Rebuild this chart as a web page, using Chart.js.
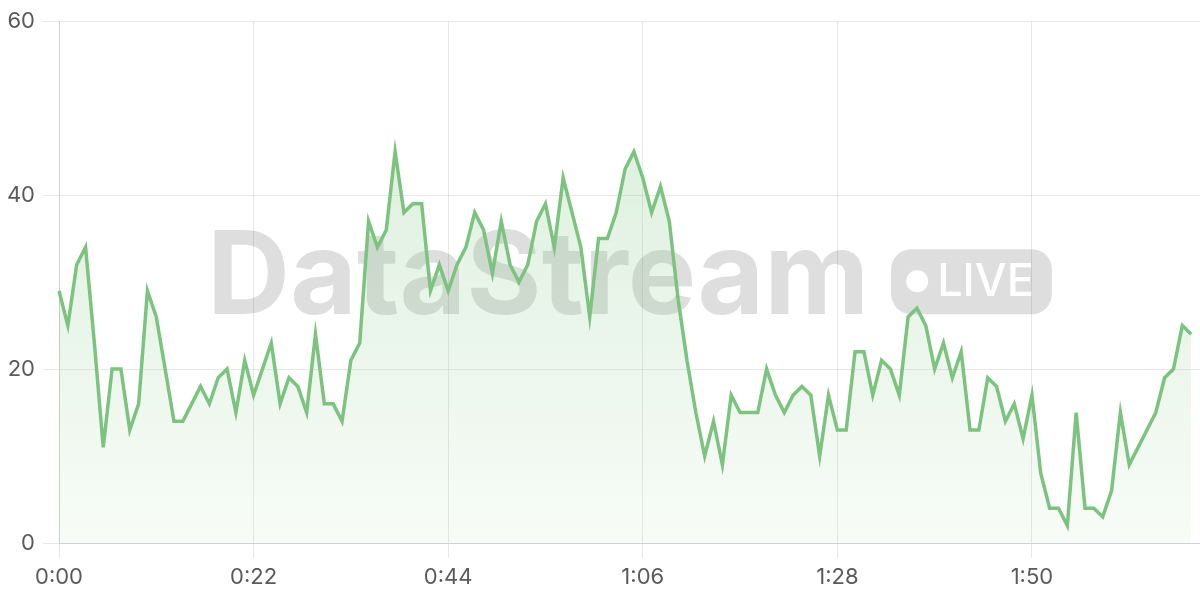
<!DOCTYPE html>
<html>
<head>
<meta charset="utf-8">
<script src="https://cdn.jsdelivr.net/npm/chart.js@4/dist/chart.umd.min.js"></script>
<style>
  html, body { margin: 0; padding: 0; background: #fff; }
  #wrap { width: 1200px; height: 600px; }
</style>
</head>
<body>
<div id="wrap"><canvas id="streamChart"></canvas></div>
<script>
// one reading per second
const values = [
  29, 25, 32, 34, 23, 11, 20, 20, 13, 16,
  29, 26, 20, 14, 14, 16, 18, 16, 19, 20,
  15, 21, 17, 20, 23, 16, 19, 18, 15, 24,
  16, 16, 14, 21, 23, 37, 34, 36, 45, 38,
  39, 39, 29, 32, 29, 32, 34, 38, 36, 31,
  37, 32, 30, 32, 37, 39, 34, 42, 38, 34,
  26, 35, 35, 38, 43, 45, 42, 38, 41, 37,
  28, 21, 15, 10, 14, 9, 17, 15, 15, 15,
  20, 17, 15, 17, 18, 17, 10, 17, 13, 13,
  22, 22, 17, 21, 20, 17, 26, 27, 25, 20,
  23, 19, 22, 13, 13, 19, 18, 14, 16, 12,
  17, 8, 4, 4, 2, 15, 4, 4, 3, 6,
  15, 9, 11, 13, 15, 19, 20, 25, 24
];
const slotCount = 130;   // window is one slot wider than the data
const xTickLabels = ['0:00', '0:22', '0:44', '1:06', '1:28', '1:50'];
const yTicks = [0, 20, 40, 60];

function fmtTime(s) {
  return Math.floor(s / 60) + ':' + String(s % 60).padStart(2, '0');
}
const timeLabels = Array.from({ length: slotCount }, (_, i) => fmtTime(i));

const GREEN = 'rgb(125, 195, 128)';

const watermark = {
  id: 'watermark',
  beforeDatasetsDraw(chart) {
    const { ctx, chartArea: a } = chart;
    const cx = (a.left + a.right) / 2;
    const baseline = a.top + 293;
    ctx.save();
    ctx.font = '700 115px Inter';
    const mainW = ctx.measureText('DataStream').width;
    ctx.font = '500 45px Inter';
    const liveW = ctx.measureText('LIVE').width;
    const pillW = 46 + liveW + 18, pillH = 65, gap = 22;
    const x0 = cx - (mainW + gap + pillW) / 2;
    ctx.fillStyle = 'rgba(0,0,0,0.13)';
    ctx.font = '700 115px Inter';
    ctx.textBaseline = 'alphabetic';
    ctx.textAlign = 'left';
    ctx.fillText('DataStream', x0, baseline);
    const px = x0 + mainW + gap;
    ctx.beginPath();
    ctx.roundRect(px, baseline - pillH, pillW, pillH, 20);
    ctx.fill();
    ctx.fillStyle = '#fff';
    ctx.beginPath();
    ctx.arc(px + 26, baseline - 33, 11, 0, Math.PI * 2);
    ctx.fill();
    ctx.font = '500 45px Inter';
    ctx.fillText('LIVE', px + 46, baseline - 18);
    ctx.restore();
  }
};

Chart.defaults.font.family = 'Inter';
Chart.defaults.color = '#5a5a5a';

new Chart(document.getElementById('streamChart'), {
  type: 'line',
  data: {
    labels: timeLabels,
    datasets: [{
      data: values,
      borderColor: GREEN,
      borderWidth: 3.5,
      pointRadius: 0,
      tension: 0,
      fill: 'origin',
      backgroundColor(context) {
        const { ctx, chartArea } = context.chart;
        if (!chartArea) return 'rgba(129,199,132,0.2)';
        const g = ctx.createLinearGradient(0, chartArea.top, 0, chartArea.bottom);
        g.addColorStop(0, 'rgba(129,199,132,0.32)');
        g.addColorStop(1, 'rgba(129,199,132,0.06)');
        return g;
      }
    }]
  },
  options: {
    responsive: true,
    maintainAspectRatio: false,
    animation: false,
    layout: { padding: { top: 20, right: 0, left: 0, bottom: 0 } },
    plugins: {
      legend: { display: false },
      tooltip: { enabled: false }
    },
    scales: {
      x: {
        grid: { tickLength: 15, color: 'rgba(0,0,0,0.09)' },
        ticks: {
          font: { size: 22 },
          autoSkip: false,
          maxRotation: 0,
          padding: 6,
          callback(val, i) {
            const l = timeLabels[i];
            return xTickLabels.includes(l) ? l : null;
          }
        },
        afterFit(scale) { scale.height = 57; }
      },
      y: {
        min: yTicks[0],
        max: yTicks[yTicks.length - 1],
        grid: { tickLength: 16, color: 'rgba(0,0,0,0.09)' },
        ticks: { stepSize: yTicks[1] - yTicks[0], font: { size: 22 }, padding: 8 },
        afterFit(scale) { scale.width = 59; }
      }
    }
  },
  plugins: [watermark]
});
</script>
</body>
</html>
